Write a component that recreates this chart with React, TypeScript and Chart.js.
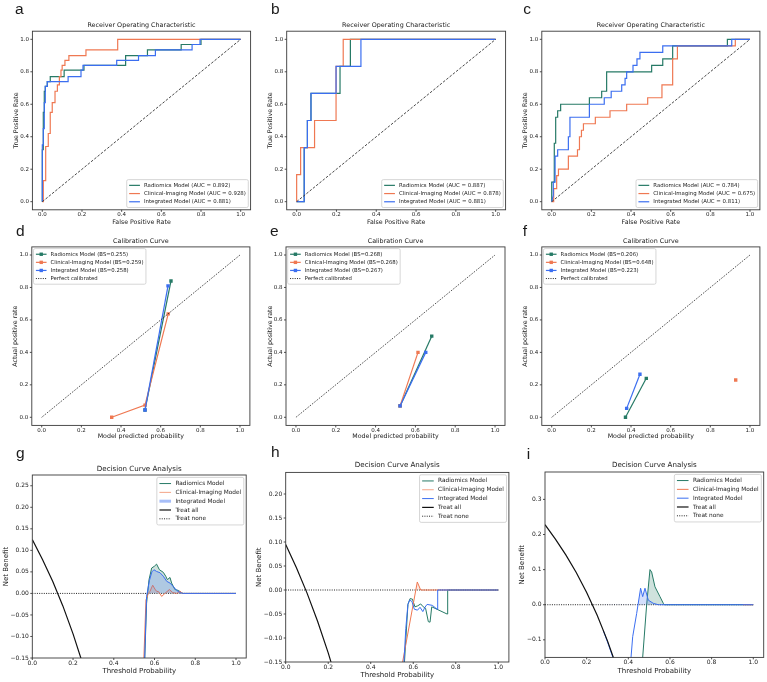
import React, { useEffect, useRef } from "react";
import { Chart, registerables } from "chart.js";

Chart.register(...registerables);

const PAGE_W = 767;
const PAGE_H = 682;

const SANS = '"DejaVu Sans", sans-serif';
const LETTER_FONT = '"Liberation Sans", Arial, sans-serif';
const LETTER_SIZE = 15.5;
const INK = "#1a1a1a";

const GREEN = "#267a66";
const ORANGE = "#ef7852";
const BLUE = "#3b6ef0";
const GREEN_FILL = "rgba(38,122,102,0.22)";
const ORANGE_FILL = "rgba(239,120,82,0.18)";
const BLUE_FILL = "rgba(59,110,240,0.22)";

// ---------- tick labels ----------
const unitTicks = [0, 0.2, 0.4, 0.6, 0.8, 1.0];
const dcaTicksG = [-0.15, -0.1, -0.05, 0, 0.05, 0.1, 0.15, 0.2, 0.25];
const dcaTicksH = [-0.15, -0.1, -0.05, 0, 0.05, 0.1, 0.15, 0.2];
const dcaTicksI = [-0.1, 0, 0.1, 0.2, 0.3];

// ---------- a: ROC ----------
const rocA_radFpr = [0, 0, 0.005, 0.005, 0.01, 0.01, 0.015, 0.015, 0.025, 0.025, 0.04, 0.04, 0.11, 0.11, 0.21, 0.21, 0.42, 0.42, 0.53, 0.53, 0.7, 0.7, 0.8, 0.8, 1.0];
const rocA_radTpr = [0, 0.32, 0.32, 0.55, 0.55, 0.68, 0.68, 0.71, 0.71, 0.74, 0.74, 0.77, 0.77, 0.81, 0.81, 0.84, 0.84, 0.9, 0.9, 0.935, 0.935, 0.968, 0.968, 1.0, 1.0];
const rocA_cliFpr = [0, 0.005, 0.005, 0.017, 0.017, 0.03, 0.03, 0.04, 0.04, 0.05, 0.05, 0.064, 0.064, 0.076, 0.076, 0.086, 0.086, 0.094, 0.094, 0.1, 0.1, 0.114, 0.114, 0.134, 0.134, 0.22, 0.22, 0.38, 0.38, 1.0];
const rocA_cliTpr = [0, 0, 0.13, 0.13, 0.34, 0.34, 0.42, 0.42, 0.55, 0.55, 0.61, 0.61, 0.68, 0.68, 0.72, 0.72, 0.77, 0.77, 0.81, 0.81, 0.84, 0.84, 0.87, 0.87, 0.9, 0.9, 0.935, 0.935, 1.0, 1.0];
const rocA_intFpr = [0, 0, 0.005, 0.005, 0.01, 0.01, 0.015, 0.015, 0.025, 0.025, 0.13, 0.13, 0.195, 0.195, 0.205, 0.205, 0.375, 0.375, 0.485, 0.485, 0.57, 0.57, 0.755, 0.755, 0.795, 0.795, 1.0];
const rocA_intTpr = [0, 0.35, 0.35, 0.45, 0.45, 0.61, 0.61, 0.71, 0.71, 0.74, 0.74, 0.77, 0.77, 0.81, 0.81, 0.84, 0.84, 0.87, 0.87, 0.9, 0.9, 0.935, 0.935, 0.968, 0.968, 1.0, 1.0];

// ---------- b: ROC ----------
const rocB_radFpr = [0, 0.038, 0.038, 0.054, 0.054, 0.072, 0.072, 0.218, 0.218, 0.27, 0.27, 1.0];
const rocB_radTpr = [0, 0, 0.333, 0.333, 0.5, 0.5, 0.667, 0.667, 0.833, 0.833, 1.0, 1.0];
const rocB_cliFpr = [0, 0, 0.02, 0.02, 0.09, 0.09, 0.198, 0.198, 0.234, 0.234, 1.0];
const rocB_cliTpr = [0, 0.167, 0.167, 0.333, 0.333, 0.5, 0.5, 0.833, 0.833, 1.0, 1.0];
const rocB_intFpr = [0, 0.038, 0.038, 0.054, 0.054, 0.072, 0.072, 0.198, 0.198, 0.323, 0.323, 1.0];
const rocB_intTpr = [0, 0, 0.333, 0.333, 0.5, 0.5, 0.667, 0.667, 0.833, 0.833, 1.0, 1.0];

// ---------- c: ROC ----------
const rocC_radFpr = [0, 0, 0.013, 0.013, 0.02, 0.02, 0.03, 0.03, 0.045, 0.045, 0.19, 0.19, 0.252, 0.252, 0.277, 0.277, 0.504, 0.504, 0.56, 0.56, 0.61, 0.61, 0.886, 0.886, 1.0];
const rocC_radTpr = [0, 0.12, 0.12, 0.36, 0.36, 0.52, 0.52, 0.56, 0.56, 0.6, 0.6, 0.64, 0.64, 0.68, 0.68, 0.8, 0.8, 0.84, 0.84, 0.88, 0.88, 0.96, 0.96, 1.0, 1.0];
const rocC_cliFpr = [0, 0.01, 0.01, 0.025, 0.025, 0.034, 0.034, 0.084, 0.084, 0.13, 0.13, 0.14, 0.14, 0.15, 0.15, 0.16, 0.16, 0.22, 0.22, 0.294, 0.294, 0.378, 0.378, 0.484, 0.484, 0.556, 0.556, 0.61, 0.61, 0.634, 0.634, 0.926, 0.926, 1.0];
const rocC_cliTpr = [0, 0, 0.08, 0.08, 0.16, 0.16, 0.2, 0.2, 0.28, 0.28, 0.32, 0.32, 0.4, 0.4, 0.44, 0.44, 0.48, 0.48, 0.52, 0.52, 0.56, 0.56, 0.6, 0.6, 0.64, 0.64, 0.72, 0.72, 0.88, 0.88, 0.96, 0.96, 1.0, 1.0];
const rocC_intFpr = [0, 0.008, 0.008, 0.017, 0.017, 0.03, 0.03, 0.084, 0.084, 0.092, 0.092, 0.19, 0.19, 0.265, 0.265, 0.3, 0.3, 0.353, 0.353, 0.37, 0.37, 0.378, 0.378, 0.41, 0.41, 0.43, 0.43, 0.445, 0.445, 0.56, 0.56, 0.908, 0.908, 1.0];
const rocC_intTpr = [0, 0.04, 0.12, 0.12, 0.28, 0.28, 0.32, 0.32, 0.4, 0.4, 0.52, 0.52, 0.6, 0.6, 0.64, 0.64, 0.68, 0.68, 0.72, 0.72, 0.76, 0.76, 0.8, 0.8, 0.84, 0.84, 0.88, 0.88, 0.92, 0.92, 0.96, 0.96, 1.0, 1.0];

const diagX = [0, 1];
const diagY = [0, 1];

// ---------- d/e/f: calibration ----------
const calD_radX = [0.521, 0.652];
const calD_radY = [0.045, 0.84];
const calD_cliX = [0.353, 0.521, 0.638];
const calD_cliY = [0.0, 0.075, 0.637];
const calD_intX = [0.521, 0.637];
const calD_intY = [0.045, 0.81];

const calE_radX = [0.523, 0.682];
const calE_radY = [0.07, 0.5];
const calE_cliX = [0.523, 0.613];
const calE_cliY = [0.07, 0.4];
const calE_intX = [0.523, 0.652];
const calE_intY = [0.07, 0.4];

const calF_radX = [0.372, 0.477];
const calF_radY = [0.0, 0.24];
const calF_cliX = [0.928];
const calF_cliY = [0.23];
const calF_intX = [0.378, 0.445];
const calF_intY = [0.055, 0.265];

// ---------- g/h/i: decision curves ----------
const noneX = [0, 1.0];
const noneY = [0, 0];

const dcaG_allX = [0, 0.05, 0.1, 0.15, 0.2, 0.25];
const dcaG_allY = [0.125, 0.079, 0.028, -0.029, -0.094, -0.167];
const dcaG_radX = [0.545, 0.561, 0.573, 0.586, 0.599, 0.61, 0.624, 0.643, 0.655, 0.663, 0.676, 0.684, 0.7, 0.717, 0.733, 0.741, 1.0];
const dcaG_radY = [-0.25, -0.023, 0.032, 0.059, 0.063, 0.068, 0.055, 0.049, 0.04, 0.032, 0.037, 0.024, 0.009, 0.007, 0.0015, 0, 0];
const dcaG_cliX = [0.54, 0.558, 0.57, 0.578, 0.591, 0.602, 0.61, 0.62, 0.635, 0.651, 0.673, 0.689, 0.709, 0.725, 0.738, 1.0];
const dcaG_cliY = [-0.25, -0.015, 0, 0.005, 0.019, 0.01, 0.005, 0.004, -0.007, 0, 0.009, 0.002, 0, 0.005, 0, 0];
const dcaG_intX = [0.545, 0.561, 0.575, 0.587, 0.597, 0.61, 0.627, 0.643, 0.66, 0.676, 0.692, 0.709, 0.725, 0.738, 1.0];
const dcaG_intY = [-0.25, -0.007, 0.03, 0.05, 0.055, 0.051, 0.048, 0.04, 0.028, 0.024, 0.016, 0.007, 0.002, 0, 0];

const dcaH_allX = [0, 0.05, 0.1, 0.15, 0.2, 0.23];
const dcaH_allY = [0.095, 0.047, -0.006, -0.065, -0.131, -0.175];
const dcaH_radX = [0.552, 0.575, 0.585, 0.596, 0.608, 0.621, 0.635, 0.647, 0.658, 0.671, 0.679, 0.687, 0.759, 0.762, 1.0];
const dcaH_radY = [-0.2, -0.03, -0.018, -0.019, -0.035, -0.033, -0.029, -0.035, -0.038, -0.066, -0.067, -0.035, -0.05, 0, 0];
const dcaH_cliX = [0.545, 0.619, 0.635, 1.0];
const dcaH_cliY = [-0.162, 0.0167, 0, 0];
const dcaH_intX = [0.55, 0.565, 0.575, 0.583, 0.594, 0.605, 0.62, 0.632, 0.645, 0.655, 0.665, 0.69, 0.712, 0.715, 1.0];
const dcaH_intY = [-0.2, -0.08, -0.03, -0.021, -0.024, -0.04, -0.042, -0.036, -0.045, -0.036, -0.03, -0.032, -0.04, 0, 0];

const dcaI_allX = [0, 0.05, 0.1, 0.15, 0.2, 0.25, 0.3, 0.34];
const dcaI_allY = [0.228, 0.187, 0.142, 0.092, 0.035, -0.029, -0.103, -0.17];
const dcaI_radX = [0.46, 0.469, 0.488, 0.504, 0.512, 0.528, 0.552, 0.568, 0.573, 1.0];
const dcaI_radY = [-0.3, -0.15, 0.0, 0.1, 0.093, 0.051, 0.023, 0.004, 0, 0];
const dcaI_cliX = [0.95, 1.0];
const dcaI_cliY = [0, 0];
const dcaI_intX = [0.28, 0.3, 0.34, 0.38, 0.405, 0.413, 0.421, 0.44, 0.459, 0.469, 0.48, 0.496, 0.52, 0.544, 1.0];
const dcaI_intY = [-0.074, -0.106, -0.174, -0.3, -0.25, -0.15, -0.091, -0.025, 0.047, 0.023, 0.047, 0.013, 0.004, 0, 0];

// ---------- types ----------
type Series = {
  label?: string;
  xs: number[];
  ys: number[];
  color: string;
  width: number;
  dash?: number[];
  marker?: boolean;
  fill?: string;
  z?: number;
  legendColor?: string;
  legendWidth?: number;
};

type Fonts = { title: number; tick: number; label: number; legend: number };

type Panel = {
  letter: string;
  letterAt: [number, number];
  plot: [number, number, number, number]; // left, top, right, bottom
  xRange: [number, number];
  yRange: [number, number];
  xTicks: number[];
  yTicks: number[];
  xDec: number;
  yDec: number;
  title: string;
  titleY: number;
  xLabel: string;
  xLabelY: number;
  yLabel: string;
  yLabelX: number;
  font: Fonts;
  legendLoc: "lower right" | "upper left" | "upper right";
  legendGap: number;
  series: Series[];
};

const ROC_FONT: Fonts = { title: 6.4, tick: 5.5, label: 6.3, legend: 5.4 };
const CAL_FONT: Fonts = { title: 6.4, tick: 5.5, label: 6.3, legend: 5.33 };
const DCA_FONT: Fonts = { title: 7.1, tick: 6.0, label: 7.0, legend: 5.8 };

const MARK_R = 2.4;
const DIAG_DASH = [2.6, 1.6];
const DOT = [1, 1.3];

function rocSeries(
  rad: [number[], number[]], cli: [number[], number[]], int: [number[], number[]],
  auc: [string, string, string]
): Series[] {
  return [
    { label: `Radiomics Model (AUC = ${auc[0]})`, xs: rad[0], ys: rad[1], color: GREEN, width: 1.2 },
    { label: `Clinical-Imaging Model (AUC = ${auc[1]})`, xs: cli[0], ys: cli[1], color: ORANGE, width: 1.2 },
    { label: `Integrated Model (AUC = ${auc[2]})`, xs: int[0], ys: int[1], color: BLUE, width: 1.2 },
    { xs: diagX, ys: diagY, color: "#333333", width: 0.9, dash: DIAG_DASH },
  ];
}

function calSeries(
  rad: [number[], number[]], cli: [number[], number[]], int: [number[], number[]],
  bs: [string, string, string]
): Series[] {
  return [
    { label: `Radiomics Model (BS=${bs[0]})`, xs: rad[0], ys: rad[1], color: GREEN, width: 1.2, marker: true },
    { label: `Clinical-Imaging Model (BS=${bs[1]})`, xs: cli[0], ys: cli[1], color: ORANGE, width: 1.2, marker: true },
    { label: `Integrated Model (BS=${bs[2]})`, xs: int[0], ys: int[1], color: BLUE, width: 1.2, marker: true },
    { label: "Perfect calibrated", xs: diagX, ys: diagY, color: "#222222", width: 1.0, dash: DOT },
  ];
}

function dcaSeries(
  all: [number[], number[]], rad: [number[], number[]], cli: [number[], number[]], int: [number[], number[]],
  legendTweaks: { cli?: string; intColor?: string; intWidth?: number } = {}
): Series[] {
  return [
    { label: "Radiomics Model", xs: rad[0], ys: rad[1], color: GREEN, width: 1.0, fill: GREEN_FILL, z: 1 },
    { label: "Clinical-Imaging Model", xs: cli[0], ys: cli[1], color: ORANGE, width: 1.0, fill: ORANGE_FILL, z: 2, legendColor: legendTweaks.cli },
    { label: "Integrated Model", xs: int[0], ys: int[1], color: BLUE, width: 1.0, fill: BLUE_FILL, z: 3, legendColor: legendTweaks.intColor, legendWidth: legendTweaks.intWidth },
    { label: "Treat all", xs: all[0], ys: all[1], color: "#111111", width: 1.2, z: 4 },
    { label: "Treat none", xs: noneX, ys: noneY, color: "#222222", width: 1.0, dash: DOT, z: 0 },
  ];
}

const ROW1: [number, number] = [31.2, 209.8];
const ROW2: [number, number] = [246.9, 425.4];

const rocBase = {
  xRange: [-0.05, 1.05] as [number, number],
  yRange: [-0.05, 1.05] as [number, number],
  xTicks: unitTicks, yTicks: unitTicks, xDec: 1, yDec: 1,
  title: "Receiver Operating Characteristic", titleY: 25,
  xLabel: "False Positive Rate", xLabelY: 222,
  yLabel: "True Positive Rate",
  font: ROC_FONT, legendLoc: "lower right" as const, legendGap: 2.3,
};

const calBase = {
  xRange: [-0.05, 1.05] as [number, number],
  yRange: [-0.05, 1.05] as [number, number],
  xTicks: unitTicks, yTicks: unitTicks, xDec: 1, yDec: 1,
  title: "Calibration Curve", titleY: 241.7,
  xLabel: "Model predicted probability", xLabelY: 436.7,
  yLabel: "Actual positive rate",
  font: CAL_FONT, legendLoc: "upper left" as const, legendGap: 1.7,
};

const dcaBase = {
  xTicks: unitTicks, xDec: 1,
  title: "Decision Curve Analysis",
  xLabel: "Threshold Probability",
  yLabel: "Net Benefit",
  font: DCA_FONT, legendLoc: "upper right" as const, legendGap: 2.4,
};

const PANELS: Panel[] = [
  {
    ...rocBase, letter: "a", letterAt: [15, 14], plot: [32.4, ROW1[0], 250.6, ROW1[1]], yLabelX: 16,
    series: rocSeries([rocA_radFpr, rocA_radTpr], [rocA_cliFpr, rocA_cliTpr], [rocA_intFpr, rocA_intTpr], ["0.892", "0.928", "0.881"]),
  },
  {
    ...rocBase, letter: "b", letterAt: [271, 14], plot: [286.7, ROW1[0], 505.6, ROW1[1]], yLabelX: 270,
    series: rocSeries([rocB_radFpr, rocB_radTpr], [rocB_cliFpr, rocB_cliTpr], [rocB_intFpr, rocB_intTpr], ["0.887", "0.878", "0.881"]),
  },
  {
    ...rocBase, letter: "c", letterAt: [523.3, 14], plot: [541.8, ROW1[0], 759.9, ROW1[1]], yLabelX: 525,
    series: rocSeries([rocC_radFpr, rocC_radTpr], [rocC_cliFpr, rocC_cliTpr], [rocC_intFpr, rocC_intTpr], ["0.784", "0.675", "0.811"]),
  },
  {
    ...calBase, letter: "d", letterAt: [16, 235.7], plot: [31.8, ROW2[0], 249.9, ROW2[1]], yLabelX: 15.7,
    series: calSeries([calD_radX, calD_radY], [calD_cliX, calD_cliY], [calD_intX, calD_intY], ["0.255", "0.259", "0.258"]),
  },
  {
    ...calBase, letter: "e", letterAt: [270, 235.7], plot: [286, ROW2[0], 505, ROW2[1]], yLabelX: 270,
    series: calSeries([calE_radX, calE_radY], [calE_cliX, calE_cliY], [calE_intX, calE_intY], ["0.268", "0.268", "0.267"]),
  },
  {
    ...calBase, letter: "f", letterAt: [522.7, 235.7], plot: [541.8, ROW2[0], 759.9, ROW2[1]], yLabelX: 525.7,
    series: calSeries([calF_radX, calF_radY], [calF_cliX, calF_cliY], [calF_intX, calF_intY], ["0.206", "0.648", "0.223"]),
  },
  {
    ...dcaBase, letter: "g", letterAt: [16, 458.3], plot: [32.3, 475, 246.2, 658],
    xRange: [0, 1.05], yRange: [-0.15, 0.275], yTicks: dcaTicksG, yDec: 2,
    titleY: 469.3, xLabelY: 670.7, yLabelX: 6,
    series: dcaSeries([dcaG_allX, dcaG_allY], [dcaG_radX, dcaG_radY], [dcaG_cliX, dcaG_cliY], [dcaG_intX, dcaG_intY],
      { cli: "#f4a487", intColor: "rgba(59,110,240,0.45)", intWidth: 3 }),
  },
  {
    ...dcaBase, letter: "h", letterAt: [271, 457.3], plot: [285.7, 472.4, 508.9, 662],
    xRange: [0, 1.05], yRange: [-0.15, 0.245], yTicks: dcaTicksH, yDec: 2,
    titleY: 465, xLabelY: 675, yLabelX: 259,
    series: dcaSeries([dcaH_allX, dcaH_allY], [dcaH_radX, dcaH_radY], [dcaH_cliX, dcaH_cliY], [dcaH_intX, dcaH_intY],
      { cli: "#f4a487" }),
  },
  {
    ...dcaBase, letter: "i", letterAt: [526.7, 459], plot: [545, 472, 763.7, 657.4],
    xRange: [0, 1.05], yRange: [-0.15, 0.378], yTicks: dcaTicksI, yDec: 1,
    titleY: 465, xLabelY: 670.7, yLabelX: 521.7,
    series: dcaSeries([dcaI_allX, dcaI_allY], [dcaI_radX, dcaI_radY], [dcaI_cliX, dcaI_cliY], [dcaI_intX, dcaI_intY]),
  },
];

const fmt = (v: number, d: number) => {
  const s = Math.abs(v) < 1e-9 ? (0).toFixed(d) : v.toFixed(d);
  return s.replace("-", "\u2212");
};

type Area = { left: number; top: number; right: number; bottom: number };

function drawLegend(ctx: CanvasRenderingContext2D, p: Panel, area: Area) {
  const f = p.font.legend;
  const items = p.series.filter((s) => s.label);
  ctx.font = `${f}px ${SANS}`;
  const textW = Math.max(...items.map((s) => ctx.measureText(s.label as string).width));
  const padX = 0.45 * f;
  const handle = 2.0 * f;
  const textOff = 3.2 * f;
  const pitch = 1.52 * f;
  const w = textOff + textW + padX;
  const h = items.length * pitch + 0.6 * f;
  const g = p.legendGap;
  const x0 = p.legendLoc === "upper left" ? area.left + g : area.right - g - w;
  const y0 = p.legendLoc === "lower right" ? area.bottom - g - h : area.top + g;

  ctx.beginPath();
  const anyCtx = ctx as any;
  if (typeof anyCtx.roundRect === "function") anyCtx.roundRect(x0, y0, w, h, 1.6);
  else ctx.rect(x0, y0, w, h);
  ctx.fillStyle = "rgba(255,255,255,0.85)";
  ctx.fill();
  ctx.strokeStyle = "#cccccc";
  ctx.lineWidth = 0.8;
  ctx.stroke();

  items.forEach((s, k) => {
    const cy = y0 + 0.3 * f + pitch * (k + 0.5);
    const sx0 = x0 + padX;
    const sx1 = sx0 + handle;
    ctx.save();
    ctx.strokeStyle = s.legendColor ?? s.color;
    ctx.lineWidth = s.legendWidth ?? s.width;
    ctx.setLineDash(s.dash ?? []);
    ctx.beginPath();
    ctx.moveTo(sx0, cy);
    ctx.lineTo(sx1, cy);
    ctx.stroke();
    if (s.marker) {
      const m = MARK_R * Math.SQRT2;
      ctx.fillStyle = s.color;
      ctx.fillRect((sx0 + sx1) / 2 - m / 2, cy - m / 2, m, m);
    }
    ctx.restore();
    ctx.fillStyle = INK;
    ctx.textAlign = "left";
    ctx.textBaseline = "middle";
    ctx.fillText(s.label as string, x0 + textOff, cy);
  });
}

// Frame, tick marks, title, panel letter and legend drawn on top of the datasets.
function decorPlugin(p: Panel) {
  return {
    id: "panelDecor",
    afterDraw(chart: any) {
      const ctx: CanvasRenderingContext2D = chart.ctx;
      const area: Area = chart.chartArea;
      const xs = chart.scales.x;
      const ys = chart.scales.y;
      ctx.save();

      ctx.strokeStyle = "#3a3a3a";
      ctx.lineWidth = 0.9;
      ctx.setLineDash([]);
      ctx.strokeRect(area.left, area.top, area.right - area.left, area.bottom - area.top);

      ctx.beginPath();
      p.xTicks.forEach((v) => {
        const px = xs.getPixelForValue(v);
        ctx.moveTo(px, area.bottom);
        ctx.lineTo(px, area.bottom + 2);
      });
      p.yTicks.forEach((v) => {
        const py = ys.getPixelForValue(v);
        ctx.moveTo(area.left, py);
        ctx.lineTo(area.left - 2, py);
      });
      ctx.stroke();

      ctx.fillStyle = INK;
      ctx.textAlign = "center";
      ctx.textBaseline = "middle";
      ctx.font = `${p.font.title}px ${SANS}`;
      ctx.fillText(p.title, (area.left + area.right) / 2, p.titleY);

      ctx.textAlign = "left";
      ctx.textBaseline = "alphabetic";
      ctx.font = `${LETTER_SIZE}px ${LETTER_FONT}`;
      ctx.fillText(p.letter, p.letterAt[0], p.letterAt[1]);

      drawLegend(ctx, p, area);
      ctx.restore();
    },
  };
}

function buildConfig(p: Panel): any {
  const [L, T, R, B] = p.plot;
  const lhLabel = p.font.label * 1.2;
  const lhTick = p.font.tick * 1.2;
  const yAxisW = L - (p.yLabelX - lhLabel / 2);
  const xAxisH = p.xLabelY + lhLabel / 2 - B;
  const tickFont = { family: SANS, size: p.font.tick };
  const labelFont = { family: SANS, size: p.font.label };

  const datasets = p.series.map((s, i) => ({
    label: s.label ?? "",
    data: s.xs.map((x, j) => ({ x, y: s.ys[j] })),
    borderColor: s.color,
    backgroundColor: s.color,
    borderWidth: s.width,
    borderDash: s.dash ?? [],
    pointRadius: s.marker ? MARK_R : 0,
    pointHoverRadius: 0,
    pointStyle: "rect",
    pointBackgroundColor: s.color,
    pointBorderColor: s.color,
    pointBorderWidth: 0,
    tension: 0,
    fill: s.fill ? { target: { value: 0 }, above: s.fill, below: "rgba(0,0,0,0)" } : false,
    order: -(s.z ?? i),
  }));

  return {
    type: "line",
    data: { datasets },
    options: {
      responsive: false,
      animation: false,
      events: [],
      layout: {
        padding: { left: L - yAxisW, top: T, right: PAGE_W - R, bottom: PAGE_H - B - xAxisH },
      },
      plugins: {
        legend: { display: false },
        tooltip: { enabled: false },
        title: { display: false },
      },
      scales: {
        x: {
          type: "linear",
          min: p.xRange[0],
          max: p.xRange[1],
          afterBuildTicks: (s: any) => {
            s.ticks = p.xTicks.map((value) => ({ value }));
          },
          afterFit: (s: any) => {
            s.height = xAxisH;
          },
          grid: { display: false, drawTicks: false },
          border: { display: false },
          ticks: {
            autoSkip: false,
            maxRotation: 0,
            minRotation: 0,
            padding: 5 - lhTick / 2,
            color: INK,
            font: tickFont,
            callback: (v: any) => fmt(Number(v), p.xDec),
          },
          title: { display: true, text: p.xLabel, color: INK, font: labelFont, padding: 0 },
        },
        y: {
          type: "linear",
          min: p.yRange[0],
          max: p.yRange[1],
          afterBuildTicks: (s: any) => {
            s.ticks = p.yTicks.map((value) => ({ value }));
          },
          afterFit: (s: any) => {
            s.width = yAxisW;
          },
          grid: { display: false, drawTicks: false },
          border: { display: false },
          ticks: {
            autoSkip: false,
            padding: 3.5,
            color: INK,
            font: tickFont,
            callback: (v: any) => fmt(Number(v), p.yDec),
          },
          title: { display: true, text: p.yLabel, color: INK, font: labelFont, padding: 0 },
        },
      },
    },
    plugins: [decorPlugin(p)],
  };
}

function PanelChart({ panel }: { panel: Panel }) {
  const ref = useRef<HTMLCanvasElement>(null);
  useEffect(() => {
    if (!ref.current) return;
    const chart = new Chart(ref.current, buildConfig(panel));
    return () => chart.destroy();
  }, [panel]);
  return (
    <canvas
      ref={ref}
      width={PAGE_W}
      height={PAGE_H}
      style={{ position: "absolute", left: 0, top: 0, width: PAGE_W, height: PAGE_H }}
    />
  );
}

export default function App() {
  return (
    <div
      style={{
        position: "absolute",
        left: 0,
        top: 0,
        width: PAGE_W,
        height: PAGE_H,
        background: "#ffffff",
        overflow: "hidden",
      }}
    >
      {PANELS.map((p) => (
        <PanelChart key={p.letter} panel={p} />
      ))}
    </div>
  );
}
